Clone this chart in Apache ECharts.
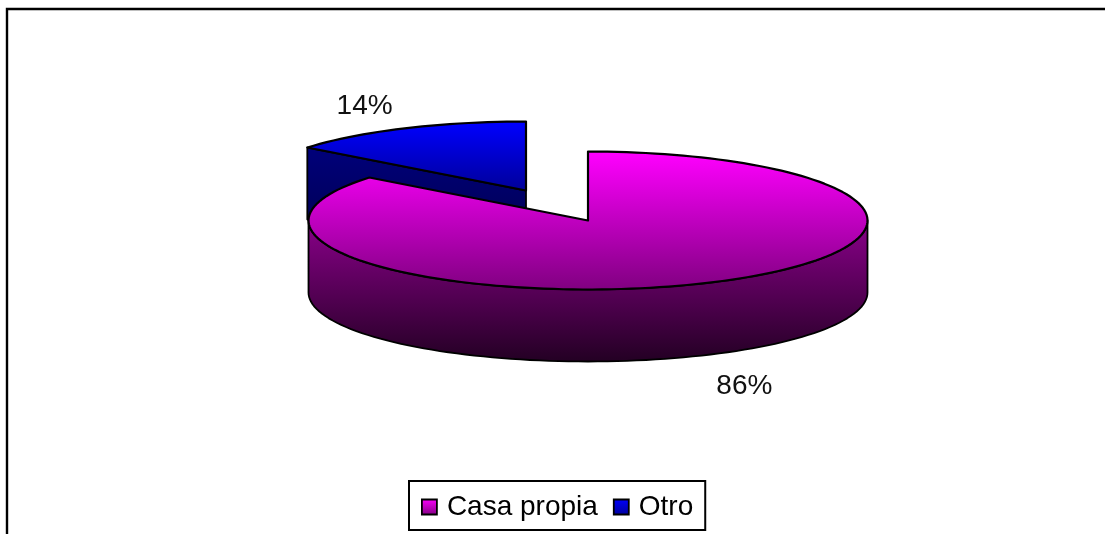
<!DOCTYPE html>
<html>
<head>
<meta charset="utf-8">
<style>html,body{margin:0;padding:0;background:#fff}#c{width:1105px;height:534px}</style>
<script src="https://cdn.jsdelivr.net/npm/echarts@6/dist/echarts.min.js"></script>
</head>
<body>
<div id="c"></div>
<script>
// Data
const categories = ['Casa propia', 'Otro'];
const values = [85.7, 14.3];

// Appearance per category
const explode = [[0, 0], [-62, -30]];
const labelOffset = [[35, 32], [-40, -22]];
const topStops = [['#ff00ff', '#800080'], ['#0000ff', '#00009a']];
const topRange = [[152, 290], [122, 190]];
const wallStops = [['#8a008a', '#230023'], ['#00007a', '#00005a']];
const wallRange = [[220, 362], [148, 220]];

// Projection of the pie
const CX = 588, CY = 220.5, RX = 279.5, RY = 69, DEPTH = 72;
const total = values.reduce((a, b) => a + b, 0);
const G = echarts.graphic.LinearGradient;
const grad = (y0, y1, c) => new G(0, y0, 0, y1, [{offset: 0, color: c[0]}, {offset: 1, color: c[1]}], true);

function pt(cx, cy, deg) {
  const t = deg * Math.PI / 180;
  return [cx + RX * Math.sin(t), cy - RY * Math.cos(t)];
}
function arcPts(cx, cy, a, b) {
  const n = Math.max(2, Math.ceil((b - a) / 2));
  const out = [];
  for (let i = 0; i <= n; i++) out.push(pt(cx, cy, a + (b - a) * i / n));
  return out;
}
function renderSlice(params, api) {
  const i = params.seriesIndex;
  const v = api.value(0);
  let before = 0;
  for (let k = 0; k < i; k++) before += values[k];
  const a = before / total * 360, b = (before + v) / total * 360;
  const cx = CX + explode[i][0], cy = CY + explode[i][1];
  const children = [];
  const wallFill = grad(wallRange[i][0], wallRange[i][1], wallStops[i]);
  const shapeStyle = {fill: wallFill, stroke: '#000', lineWidth: 1.8, lineJoin: 'round'};
  const radialWall = (deg) => {
    const p = pt(cx, cy, deg);
    children.push({type: 'polygon', shape: {points: [[cx, cy], p, [p[0], p[1] + DEPTH], [cx, cy + DEPTH]]}, style: shapeStyle});
  };
  if (Math.sin(a * Math.PI / 180) < -1e-6) radialWall(a);
  if (Math.sin(b * Math.PI / 180) > 1e-6) radialWall(b);
  const wa = Math.max(a, 90), wb = Math.min(b, 270);
  if (wb > wa) {
    const up = arcPts(cx, cy, wa, wb);
    const down = up.map(p => [p[0], p[1] + DEPTH]).reverse();
    children.push({type: 'polygon', shape: {points: up.concat(down)}, style: shapeStyle});
  }
  children.push({
    type: 'polygon',
    shape: {points: [[cx, cy]].concat(arcPts(cx, cy, a, b))},
    style: {fill: grad(topRange[i][0], topRange[i][1], topStops[i]), stroke: '#000', lineWidth: 2.2, lineJoin: 'round'}
  });
  const mid = pt(cx, cy, (a + b) / 2);
  const wallDrop = (a + b) / 2 > 90 && (a + b) / 2 < 270 ? DEPTH : 0;
  children.push({
    type: 'text',
    style: {
      text: Math.round(v / total * 100) + '%',
      x: mid[0] + labelOffset[i][0], y: mid[1] + wallDrop + labelOffset[i][1],
      align: 'center', verticalAlign: 'middle',
      font: '28px "Liberation Sans", Arial, sans-serif', fill: '#111'
    }
  });
  return {type: 'group', children};
}

const chart = echarts.init(document.getElementById('c'), null, {renderer: 'canvas'});
chart.setOption({
  animation: false,
  backgroundColor: '#fff',
  graphic: [
    {type: 'polyline', silent: true, shape: {points: [[7, 534], [7, 9], [1105, 9]]}, style: {fill: 'none', stroke: '#000', lineWidth: 2.4}}
  ],
  legend: {
    left: 409, top: 481,
    padding: [12, 12, 9, 12],
    itemGap: 15, itemWidth: 15, itemHeight: 15,
    borderColor: '#000', borderWidth: 2, backgroundColor: '#fff',
    textStyle: {fontFamily: '"Liberation Sans", Arial, sans-serif', fontSize: 28, color: '#000', padding: [0, 0, 0, 5]},
    data: categories.map((name, i) => ({
      name, icon: 'rect',
      itemStyle: {
        color: new G(0, 0, 0, 1, [{offset: 0, color: topStops[i][0]}, {offset: 1, color: topStops[i][1]}]),
        borderColor: '#000', borderWidth: 1.8
      }
    }))
  },
  series: categories.map((name, i) => ({
    type: 'custom',
    name,
    coordinateSystem: 'none',
    silent: true,
    z: i === 0 ? 3 : 2,
    renderItem: renderSlice,
    data: [[values[i]]]
  }))
});
</script>
</body>
</html>
